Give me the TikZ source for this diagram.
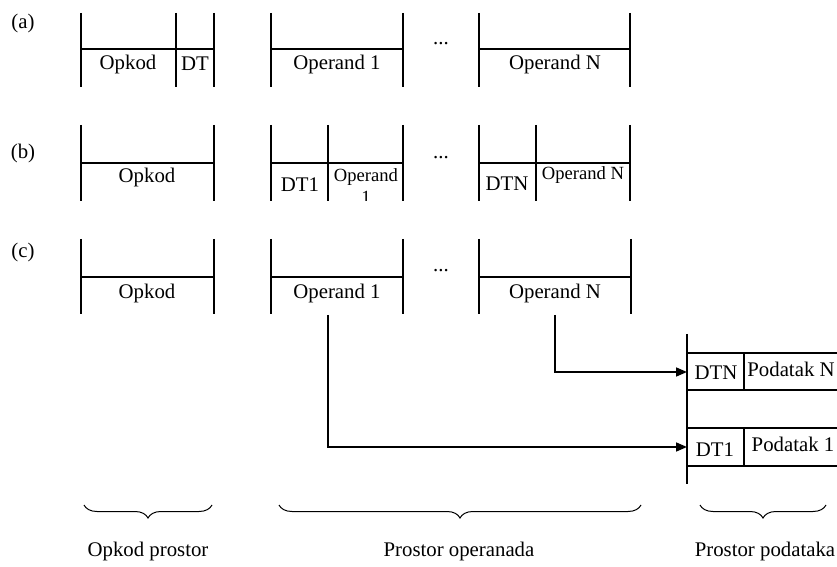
\documentclass[tikz,border=0pt]{standalone}
\usepackage{fontspec}
\setmainfont{Liberation Serif}
\usepackage{tikz}
\usetikzlibrary{arrows.meta,decorations.pathreplacing,calc}

\begin{document}
\begin{tikzpicture}[
    x=0.5pt, y=-0.5pt,
    bar/.style={line width=1pt},
    txt/.style={font=\fontsize{10.4}{12}\selectfont, inner sep=0pt},
    small/.style={font=\fontsize{9.3}{11}\selectfont, inner sep=0pt, align=center},
    arr/.style={-{Triangle[length=5.5pt, width=4.5pt]}, line width=0.8pt},
    brc/.style={decorate, decoration={brace, mirror, amplitude=6.5pt}, line width=0.5pt},
]
\useasboundingbox (0,0) rectangle (837,567);

% Row (a)
\node[txt] (la) at (23,23) {(a)};
\foreach \x in {81,176,214,271,403,479,630}
  \draw[bar] (\x,13) -- (\x,87);
\draw[bar] (81,49) -- (214,49);
\draw[bar] (271,49) -- (403,49);
\draw[bar] (479,49) -- (630,49);
\node[txt] (a-opk) at (128,64) {Opkod};
\node[txt] (a-dt) at (195,64) {DT};
\node[txt] (a-op1) at (337,64) {Operand 1};
\node[txt] (a-dots) at (441,44) {...};
\node[txt] (a-opn) at (555,64) {Operand N};

% Row (b)
\node[txt] (lb) at (23,153) {(b)};
\foreach \x in {81,214,271,328,403,479,536,630}
  \draw[bar] (\x,125) -- (\x,201);
\draw[bar] (81,163) -- (214,163);
\draw[bar] (271,163) -- (403,163);
\draw[bar] (479,163) -- (630,163);
\node[txt] (b-opk) at (147,177) {Opkod};
\node[txt] (b-dt1) at (300,185) {DT1};
\begin{scope}
  \clip (328,163) rectangle (403,201);
  \node[small, anchor=north] (b-op1) at (366,168) {Operand\\1};
\end{scope}
\node[txt] (b-dots) at (441,158) {...};
\node[txt] (b-dtn) at (507,184) {DTN};
\node[small] (b-opn) at (583,175) {Operand N};

% Row (c)
\node[txt] (lc) at (23,252) {(c)};
\foreach \x in {81,214,271,403,479,631}
  \draw[bar] (\x,239) -- (\x,314);
\draw[bar] (81,277) -- (214,277);
\draw[bar] (271,277) -- (403,277);
\draw[bar] (479,277) -- (631,277);
\node[txt] (c-opk) at (147,293) {Opkod};
\node[txt] (c-op1) at (337,293) {Operand 1};
\node[txt] (c-dots) at (441,271) {...};
\node[txt] (c-opn) at (555,293) {Operand N};

% Data space
\draw[bar] (687,334) -- (687,484);
\draw[bar] (687,353) -- (837,353);
\draw[bar] (687,390) -- (837,390);
\draw[bar] (744,353) -- (744,390);
\draw[bar] (687,428) -- (837,428);
\draw[bar] (687,466) -- (837,466);
\draw[bar] (744,428) -- (744,466);
\node[txt] (dtn) at (716,373) {DTN};
\node[txt] (podn) at (791,369) {Podatak N};
\node[txt] (dt1) at (715,450) {DT1};
\node[txt] (pod1) at (793,444) {Podatak 1};

% Pointers
\coordinate (src1) at (328,315);
\coordinate (srcn) at (555,315);
\coordinate (dst1) at (687,447);
\coordinate (dstn) at (687,372);
\draw[arr] (src1) |- (dst1);
\draw[arr] (srcn) |- (dstn);

% Braces
\coordinate (b1l) at (84,505);  \coordinate (b1r) at (212,505);
\coordinate (b2l) at (279,505); \coordinate (b2r) at (641,505);
\coordinate (b3l) at (700,505); \coordinate (b3r) at (826,505);
\draw[brc] (b1l) -- (b1r);
\draw[brc] (b2l) -- (b2r);
\draw[brc] (b3l) -- (b3r);
\node[txt] (s-opk) at (148,551) {Opkod prostor};
\node[txt] (s-opr) at (459,551) {Prostor operanada};
\node[txt] (s-pod) at (765,551) {Prostor podataka};

\end{tikzpicture}
\end{document}
